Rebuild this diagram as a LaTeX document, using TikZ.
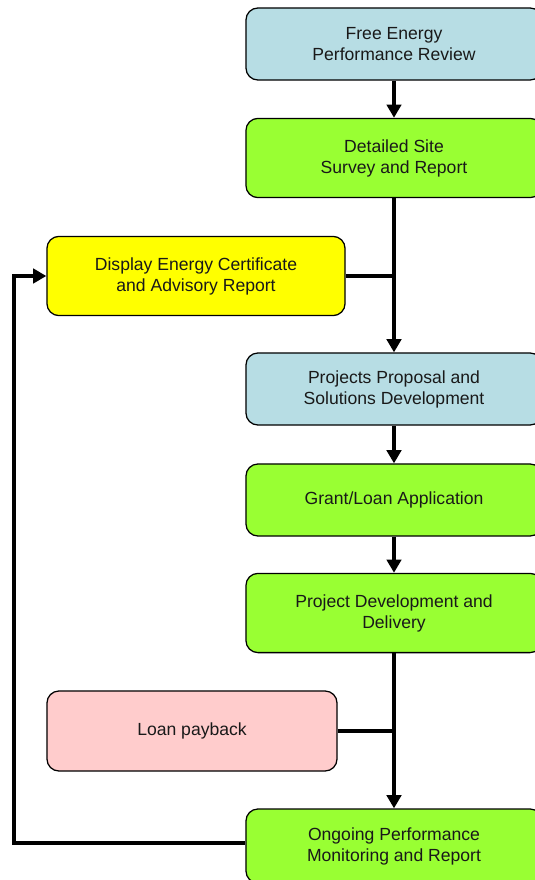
\documentclass[tikz,border=0pt]{standalone}
\usepackage{fontspec}
\setmainfont{Liberation Sans}
\usepackage{tikz}
\usetikzlibrary{positioning,arrows.meta}

\definecolor{paleblue}{RGB}{183,221,228}
\definecolor{limegreen}{RGB}{153,255,51}
\definecolor{paleyellow}{RGB}{255,255,0}
\definecolor{palepink}{RGB}{255,204,204}

\begin{document}
\begin{tikzpicture}[x=0.025cm,y=-0.025cm]
\tikzstyle{stage}=[rectangle, rounded corners=0.3cm, draw=black, line width=0.9pt, align=center, font=\fontsize{12.5}{14.9}\selectfont, text=black!90]
\tikzstyle{review}=[stage, fill=paleblue, minimum width=7.4cm, minimum height=1.8cm]
\tikzstyle{work}=[stage, fill=limegreen, minimum width=7.4cm, minimum height=1.98cm]
\tikzstyle{side}=[stage, minimum height=1.98cm]
\tikzstyle{flow}=[line width=3pt, -{Triangle[length=0.33cm,width=0.36cm]}]
\tikzstyle{link}=[line width=3pt]
\useasboundingbox (0,0) rectangle (534,880);
	\node[review] (fepr) at (394,44) {Free Energy\\Performance Review};
	\node[work] (survey) at (394,158) {Detailed Site\\Survey and Report};
	\node[side, fill=paleyellow, minimum width=7.45cm] (dec) at (196,276) {Display Energy Certificate\\ and Advisory Report};
	\node[review] (proposal) at (394,389) {Projects Proposal and\\Solutions Development};
	\node[work, minimum height=1.8cm] (grant) at (394,500) {Grant/Loan Application};
	\node[work] (delivery) at (394,613) {Project Development and\\Delivery};
	\node[side, fill=palepink, minimum width=7.25cm, minimum height=2cm] (payback) at (192,731) {Loan payback};
	\node[work, minimum height=1.85cm] (monitor) at (394,846) {Ongoing Performance\\Monitoring and Report};
	\coordinate (loopb) at (14,843);
	\coordinate (loopt) at (14,276);

	\path
		(fepr) edge [flow] (survey)
		(survey) edge [flow] (proposal)
		(proposal) edge [flow] (grant)
		(grant) edge [flow] (delivery)
		(delivery) edge [flow] (monitor);
	\draw[link] (dec.east) -- (survey.south |- dec.east);
	\draw[link] (payback.east) -- (delivery.south |- payback.east);
	\draw[flow] (monitor.west |- loopb) -- (loopb) -- (loopt) -- (dec.west |- loopt);

\end{tikzpicture}
\end{document}
